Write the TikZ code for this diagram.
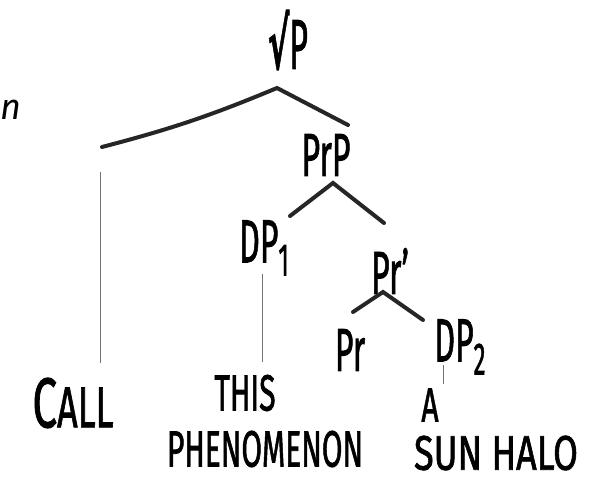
\documentclass[tikz,border=0pt]{standalone}
\usepackage{fontspec}
\setmainfont{Fira Sans}[BoldFont=Fira Sans, BoldFeatures={FakeBold=1.6}]
\newfontfamily\symfont{DejaVu Sans}[FakeBold=1.6]
\usetikzlibrary{positioning}
% tall, narrow marker letters
\newcommand{\hand}[2][1.9]{\scalebox{1}[#1]{#2}}
\newcommand{\sub}[1]{\raisebox{-7pt}{\fontsize{24}{24}\selectfont #1}}

\begin{document}
\begin{tikzpicture}[x=1pt, y=-1pt,
  lab/.style={font=\fontsize{32}{36}\selectfont\bfseries, inner sep=0pt, anchor=center},
  word/.style={lab, font=\fontsize{30}{34}\selectfont\bfseries},
  br/.style={line width=4pt, line cap=round, black!85},
  stem/.style={line width=0.9pt, black!55}]
\useasboundingbox (0,0) rectangle (598,487);
% labels
\node[lab] (vp) at (288,40) {\hand[2.2]{{\symfont √}P}};
\node[lab] (prp) at (326,155) {\hand{PrP}};
\node[lab] (dp1) at (264,248) {\hand{DP\sub{1}}};
\node[lab] (prbar) at (390,271) {\hand{Pr’}};
\node[lab] (pr) at (350,350) {\hand{Pr}};
\node[lab] (dp2) at (460,347) {\hand{DP\sub{2}}};
\node[word] (call) at (73,403) {\hand[1.6]{{\fontsize{44}{46}\selectfont C}{\fontsize{36}{38}\selectfont ALL}}};
\node[word] (this) at (245,393) {\hand[1.7]{THIS}};
\node[word] (phen) at (265,449) {\hand[1.7]{PHENOMENON}};
\node[word] (art) at (430,405) {\hand[1.6]{A}};
\node[word, font=\fontsize{36}{40}\selectfont\bfseries] (halo) at (496,453) {\hand[1.35]{SUN HALO}};
\node[lab, font=\itshape\fontsize{36}{40}\selectfont] (cut) at (11,110) {n};
% branch ends
\coordinate (vp-a) at (277,88);
\coordinate (vp-l) at (102,147);
\coordinate (vp-r) at (348,125);
\coordinate (prp-a) at (333,183);
\coordinate (prp-l) at (290,216);
\coordinate (prp-r) at (384,223);
\coordinate (prbar-a) at (383,292);
\coordinate (prbar-l) at (353,312);
\coordinate (prbar-r) at (423,320);
\coordinate (call-t) at (100,172);
\coordinate (dp1-b) at (262,274);
\coordinate (dp2-b) at (443,365);
\draw[br] (vp-l) to[bend right=4] (vp-a) -- (vp-r);
\draw[br] (prp-l) -- (prp-a) -- (prp-r);
\draw[br] (prbar-l) -- (prbar-a) -- (prbar-r);
\draw[stem] (call-t) -- (call-t |- 0,363);
\draw[stem] (dp1-b) -- (dp1-b |- 0,362);
\draw[stem] (dp2-b) -- (dp2-b |- 0,384);
\end{tikzpicture}
\end{document}
